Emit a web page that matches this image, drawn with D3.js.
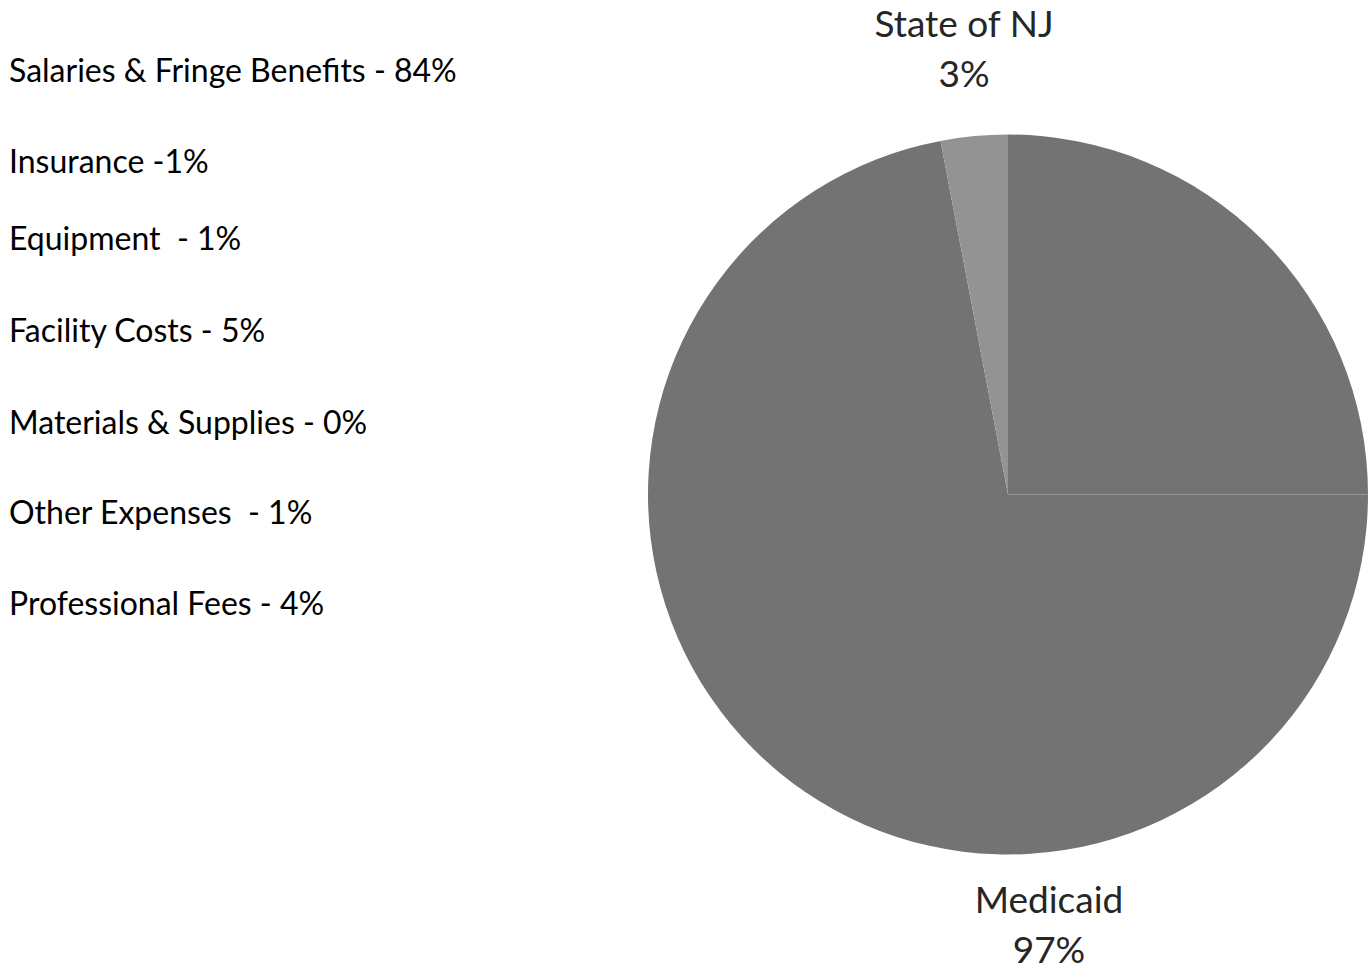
<!DOCTYPE html>
<html>
<head>
<meta charset="utf-8">
<script src="https://cdn.jsdelivr.net/npm/d3@7/dist/d3.min.js"></script>
<style>
  html, body { margin: 0; padding: 0; background: #fff; }
  svg { display: block; font-family: Lato, "Open Sans", sans-serif; }
</style>
</head>
<body>
<svg id="chart" width="1369" height="971"></svg>
<script>
// Revenue sources (pie)
const sources = ["Medicaid", "State of NJ"];
const sourceShares = [97, 3];
const sourceColors = ["#737373", "#939393"];

// Expense breakdown (text list)
const expenseLabels = [
  "Salaries & Fringe Benefits - 84%",
  "Insurance -1%",
  "Equipment  - 1%",
  "Facility Costs - 5%",
  "Materials & Supplies - 0%",
  "Other Expenses  - 1%",
  "Professional Fees - 4%"
];
const expenseBaselines = [82, 173, 250, 342, 434, 524, 615];

const svg = d3.select("#chart");

// Expense list on the left
svg.append("g")
  .selectAll("text")
  .data(expenseLabels)
  .join("text")
  .attr("x", 9)
  .attr("y", (d, i) => expenseBaselines[i])
  .attr("fill", "#000")
  .attr("font-size", 32)
  .style("white-space", "pre")
  .text(d => d);

// Pie
const cx = 1008, cy = 494.5, radius = 360;
const data = sources.map((s, i) => ({ name: s, value: sourceShares[i], color: sourceColors[i] }));
const pie = d3.pie().value(d => d.value).sort(null);
const arcs = pie(data);
const arc = d3.arc().innerRadius(0).outerRadius(radius);

const g = svg.append("g").attr("transform", `translate(${cx},${cy})`);

// Slices that cross the quarter turn are painted in two pieces
const split = Math.PI / 2;
const pieces = [];
arcs.forEach(a => {
  if (a.startAngle < split && a.endAngle > split) {
    pieces.push({ startAngle: a.startAngle, endAngle: split, color: a.data.color });
    pieces.push({ startAngle: split, endAngle: a.endAngle, color: a.data.color });
  } else {
    pieces.push({ startAngle: a.startAngle, endAngle: a.endAngle, color: a.data.color });
  }
});
g.selectAll("path")
  .data(pieces)
  .join("path")
  .attr("d", arc)
  .attr("fill", d => d.color);

// Slice labels
const labelPos = {
  "State of NJ": { x: 964, y: 37 },
  "Medicaid": { x: 1049, y: 913 }
};
arcs.forEach(a => {
  const p = labelPos[a.data.name];
  const t = svg.append("text")
    .attr("x", p.x)
    .attr("y", p.y)
    .attr("text-anchor", "middle")
    .attr("fill", "#262626")
    .attr("font-size", 37);
  t.append("tspan").attr("x", p.x).attr("dy", 0).text(a.data.name);
  t.append("tspan").attr("x", p.x).attr("dy", 50).text(a.data.value + "%");
});
</script>
</body>
</html>
